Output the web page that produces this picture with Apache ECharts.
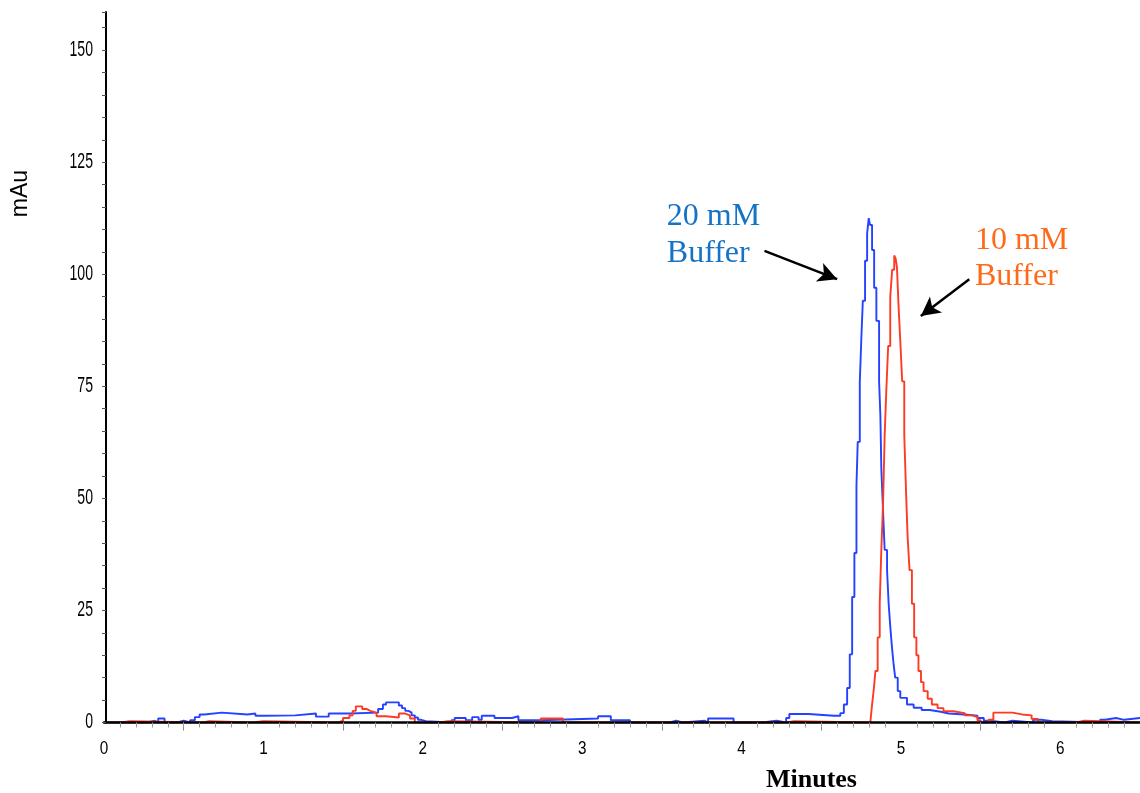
<!DOCTYPE html>
<html>
<head>
<meta charset="utf-8">
<script src="https://cdn.jsdelivr.net/npm/echarts@6/dist/echarts.min.js"></script>
<style>
html,body{margin:0;padding:0;background:#fff;}
#chart{width:1140px;height:793px;}
</style>
</head>
<body>
<div id="chart"></div>
<script>
// ---- data (minutes, mAu) ----
const blueTime = [0,0.27,0.32,0.34,0.38,0.46,0.50,0.54,0.57,0.60,0.63,0.74,0.90,0.95,1.01,1.20,1.33,1.41,1.54,1.72,1.75,1.77,1.85,1.87,1.89,1.91,1.93,1.95,1.97,1.99,2.02,2.18,2.20,2.27,2.31,2.35,2.37,2.45,2.56,2.60,2.74,3.10,3.18,3.30,3.55,3.59,3.63,3.77,3.79,3.95,4.13,4.22,4.28,4.30,4.42,4.58,4.62,4.642,4.6625,4.679,4.694,4.708,4.721,4.729,4.742,4.752,4.761,4.775,4.788,4.798,4.806,4.819,4.832,4.846,4.863,4.871,4.877,4.888,4.898,4.913,4.923,4.934,4.944,4.954,4.964,4.98,4.996,5.038,5.08,5.13,5.18,5.25,5.30,5.40,5.48,5.52,5.56,5.65,5.70,5.83,5.88,5.95,6.25,6.28,6.35,6.40,6.5];
const blueMau  = [0,0.4,0,0.9,0,0.4,0,0.5,1.2,1.8,2.2,1.8,2.0,1.5,1.6,2.0,1.3,2.0,2.2,3.0,4.0,4.5,3.8,3.2,2.6,2.2,1.6,1.1,0.6,0.3,0,0.5,1.0,0.5,1.2,0.6,1.5,1.0,1.4,0.5,0.9,1.4,0.5,0,0.4,0,0.4,0,0.9,0,0.4,0,1.0,1.9,1.5,1.5,2.1,4.0,7.7,15.2,28.0,37.8,52.8,62.6,76.1,86,94.1,103,109.1,112.5,111,105.4,97,89.6,76.1,68.6,56.6,47,38.5,34.0,26.5,21,16.7,13,10.0,7,5.5,4.0,3.3,2.8,2.4,2.0,1.8,1.5,1.0,0.4,0,0.4,0,0.6,0.3,0,0.6,1.0,0.6,1.0,0.8];

const redTime = [0,0.11,0.16,0.62,0.66,0.93,1.00,1.47,1.50,1.54,1.56,1.58,1.62,1.65,1.67,1.71,1.77,1.85,1.89,1.92,1.95,2.10,2.16,2.74,2.88,4.28,4.33,4.808,4.819,4.83,4.84,4.854,4.867,4.877,4.888,4.898,4.908,4.92,4.933,4.945,4.958,4.967,4.975,4.985,4.996,5.008,5.021,5.033,5.042,5.054,5.069,5.083,5.097,5.11,5.126,5.142,5.168,5.194,5.23,5.267,5.329,5.40,5.45,5.48,5.50,5.55,5.58,5.70,5.76,5.82,5.86,6.10,6.15,6.5];
const redMau  = [0,0.3,0,0.3,0,0.3,0,0.4,1.0,1.6,2.6,3.6,3.0,2.6,2.2,1.4,1.1,2.0,1.6,0.9,0,0.3,0,0.9,0,0.3,0,0,4.0,7.5,11.5,19.0,26.5,38.5,49.0,64.1,73.8,84,94.9,101,104.2,103.5,101.6,93,85.1,76.1,64.1,50.5,41.5,34.0,26.5,19.0,15,11.5,9,7.0,5.3,4.0,3.2,2.5,2.1,1.6,1.2,0.5,0,0.6,2.2,1.8,1.6,0.8,0,0.4,0,0];

const xTickValues = [0, 1, 2, 3, 4, 5, 6];
const xTickLabels = ['0', '1', '2', '3', '4', '5', '6'];
const yTickValues = [0, 25, 50, 75, 100, 125, 150];
const yTickLabels = ['0', '25', '50', '75', '100', '125', '150'];
const halfMinuteTicks = [0.5, 1.5, 2.5, 3.5, 4.5, 5.5, 6.5];

const annotationTexts = ['20 mM\nBuffer', '10 mM\nBuffer'];
const axisTitles = { x: 'Minutes', y: 'mAu' };

// ---- chart ----
const zip = (a, b) => a.map((t, i) => [t, b[i]]);
const chart = echarts.init(document.getElementById('chart'), null, { renderer: 'canvas' });

const option = {
  animation: false,
  backgroundColor: '#ffffff',
  grid: { left: 104, top: 12, width: 1040, height: 710.5, containLabel: false },
  xAxis: {
    type: 'value', min: 0, max: 6.5, interval: 1, z: 10,
    axisLine: { show: true, onZero: false, lineStyle: { color: '#000', width: 2.5 } },
    axisTick: { show: true, inside: false, length: 8, customValues: halfMinuteTicks,
      lineStyle: { color: '#888', width: 1 } },
    minorTick: { show: true, splitNumber: 10, length: 5, lineStyle: { color: '#999', width: 1 } },
    splitLine: { show: false }, minorSplitLine: { show: false },
    axisLabel: { show: false }
  },
  yAxis: {
    type: 'value', min: 0, max: 158.5, interval: 25, z: 10, offset: -2,
    axisLine: { show: true, lineStyle: { color: '#000', width: 2 } },
    axisTick: { show: true, inside: false, length: 4, lineStyle: { color: '#555', width: 1 } },
    minorTick: { show: true, splitNumber: 5, length: 4, lineStyle: { color: '#555', width: 1 } },
    splitLine: { show: false }, minorSplitLine: { show: false },
    axisLabel: { show: false }
  },
  series: [
    {
      name: '20 mM Buffer', type: 'line', step: 'end', showSymbol: false, z: 2,
      data: zip(blueTime, blueMau),
      lineStyle: { color: '#2442ff', width: 1.9 },
      markLine: {
        silent: true, animation: false,
        symbol: ['none', 'arrow'], symbolSize: [15, 19],
        label: { show: false },
        lineStyle: { color: '#000', width: 2.5, type: 'solid' },
        data: [
          [{ coord: [4.144, 105.2] }, { coord: [4.60, 98.9] }],
          [{ coord: [5.429, 98.9] }, { coord: [5.125, 90.7] }]
        ]
      }
    },
    {
      name: '10 mM Buffer', type: 'line', step: 'end', showSymbol: false, z: 3,
      data: zip(redTime, redMau),
      lineStyle: { color: '#ff3a22', width: 1.9 }
    }
  ]
};
chart.setOption(option);

const px = (t, v) => chart.convertToPixel({ gridIndex: 0 }, [t, v]);
const graphics = [];
xTickValues.forEach((t, i) => {
  const p = px(t, 0);
  graphics.push({ type: 'text', x: p[0], y: 749, scaleX: 0.85, z: 20,
    style: { text: xTickLabels[i], font: '18px "Liberation Sans", Arial, sans-serif',
      fill: '#000', align: 'center', verticalAlign: 'middle' } });
});
yTickValues.forEach((v, i) => {
  const p = px(0, v);
  graphics.push({ type: 'text', x: 93, y: p[1] - 0.5, scaleX: 0.64, z: 20,
    style: { text: yTickLabels[i], font: '22px "Liberation Sans", Arial, sans-serif',
      fill: '#000', align: 'right', verticalAlign: 'middle' } });
});
const a1 = px(3.531, 108.7);
const a2 = px(5.464, 103.5);
const xt = px(4.42, 0);
const yt = px(0, 118);
graphics.push(
  { type: 'text', x: a1[0], y: a1[1], z: 20,
    style: { text: annotationTexts[0], font: '32px "Liberation Serif", "Times New Roman", serif',
      fill: '#1473c6', lineHeight: 37, align: 'left', verticalAlign: 'middle' } },
  { type: 'text', x: a2[0], y: a2[1], z: 20,
    style: { text: annotationTexts[1], font: '32px "Liberation Serif", "Times New Roman", serif',
      fill: '#ff6a1a', lineHeight: 36, align: 'left', verticalAlign: 'middle' } },
  { type: 'text', x: xt[0] + 3, y: 780, z: 20,
    style: { text: axisTitles.x, font: 'bold 26px "Liberation Serif", "Times New Roman", serif',
      fill: '#000', align: 'center', verticalAlign: 'middle' } },
  { type: 'text', x: 21, y: yt[1], rotation: Math.PI / 2, z: 20,
    style: { text: axisTitles.y, font: '23px "Liberation Sans", Arial, sans-serif',
      fill: '#000', align: 'center', verticalAlign: 'middle' } }
);
chart.setOption({ graphic: graphics });
</script>
</body>
</html>
